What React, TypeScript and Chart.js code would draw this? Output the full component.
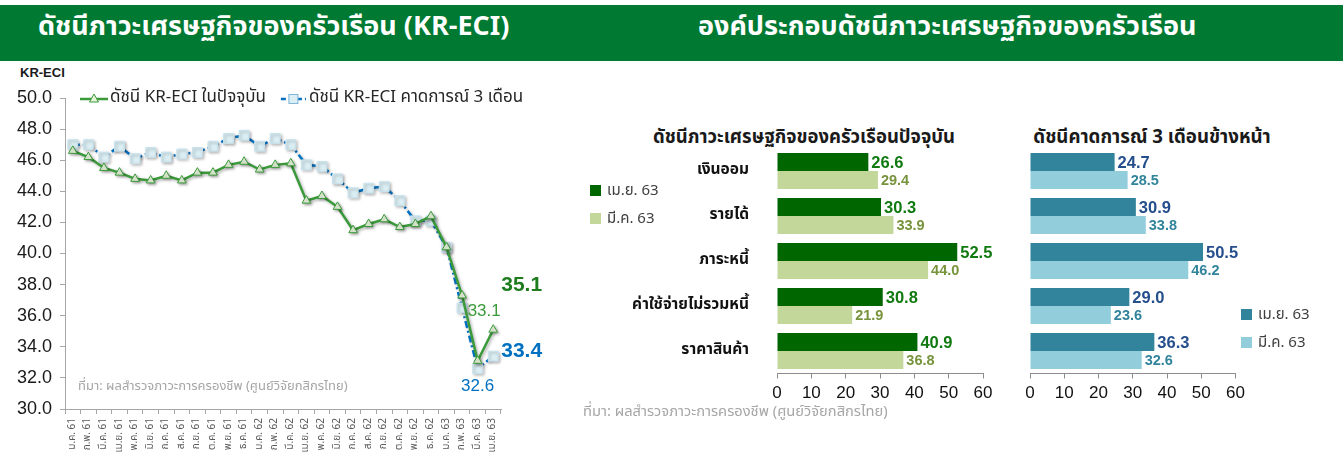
import React, { useEffect, useRef } from 'react';
import { Chart, registerables } from 'chart.js';

Chart.register(...registerables);

// ---------- data ----------
const monthLabels = [
  'ม.ค. 61', 'ก.พ. 61', 'มี.ค. 61', 'เม.ย. 61', 'พ.ค. 61', 'มิ.ย. 61', 'ก.ค. 61', 'ส.ค. 61', 'ก.ย. 61', 'ต.ค. 61', 'พ.ย. 61', 'ธ.ค. 61',
  'ม.ค. 62', 'ก.พ. 62', 'มี.ค. 62', 'เม.ย. 62', 'พ.ค. 62', 'มิ.ย. 62', 'ก.ค. 62', 'ส.ค. 62', 'ก.ย. 62', 'ต.ค. 62', 'พ.ย. 62', 'ธ.ค. 62',
  'ม.ค. 63', 'ก.พ. 63', 'มี.ค. 63', 'เม.ย. 63',
];
const currentIndex = [
  46.6, 46.2, 45.5, 45.2, 44.8, 44.7, 45.0, 44.7, 45.2, 45.2, 45.7, 45.9,
  45.4, 45.7, 45.8, 43.4, 43.7, 43.0, 41.5, 41.9, 42.2, 41.7, 41.9, 42.4,
  40.4, 37.3, 33.1, 35.1,
];
const expectIndex = [
  47.0, 47.0, 46.2, 46.9, 46.1, 46.5, 46.2, 46.4, 46.5, 46.9, 47.4, 47.6,
  46.9, 47.4, 47.0, 45.7, 45.6, 44.8, 43.9, 44.2, 44.3, 43.4, 42.1, 42.1,
  40.4, 36.5, 32.6, 33.4,
];
const lineSeriesNames = ['ดัชนี KR-ECI ในปัจจุบัน', 'ดัชนี KR-ECI คาดการณ์ 3 เดือน'];

const components = ['เงินออม', 'รายได้', 'ภาระหนี้', 'ค่าใช้จ่ายไม่รวมหนี้', 'ราคาสินค้า'];
const currentApr63 = [26.6, 30.3, 52.5, 30.8, 40.9];
const currentMar63 = [29.4, 33.9, 44.0, 21.9, 36.8];
const expectApr63 = [24.7, 30.9, 50.5, 29.0, 36.3];
const expectMar63 = [28.5, 33.8, 46.2, 23.6, 32.6];
const barSeriesNames = ['เม.ย. 63', 'มี.ค. 63'];

// ---------- styling ----------
const THAI = '"Noto Sans Thai", "Noto Sans Thai UI", Tahoma, "Leelawadee UI", "Noto Sans", "DejaVu Sans", sans-serif';
const ARIAL = '"Liberation Sans", Arial, Helvetica, sans-serif';
const GREEN = '#3A9A3A';
const BLUE = '#0070C0';

const shadowPlugin = {
  id: 'shadowPlugin',
  beforeDatasetDraw(chart: any) {
    const c = chart.ctx;
    c.save();
    c.shadowColor = 'rgba(0,0,0,0.3)';
    c.shadowBlur = 3;
    c.shadowOffsetX = 1.5;
    c.shadowOffsetY = 1.5;
  },
  afterDatasetDraw(chart: any) {
    chart.ctx.restore();
  },
};

const lineLabelPlugin = {
  id: 'lineLabelPlugin',
  afterDatasetsDraw(chart: any) {
    const ctx = chart.ctx;
    const n = monthLabels.length;
    const items = [
      { ds: 0, i: n - 1, dx: 8, dy: -44, align: 'left', font: `bold 21px ${ARIAL}`, color: '#1E7B1E' },
      { ds: 0, i: n - 2, dx: -10, dy: -49, align: 'left', font: `17px ${ARIAL}`, color: GREEN },
      { ds: 1, i: n - 1, dx: 8, dy: -5, align: 'left', font: `bold 21px ${ARIAL}`, color: BLUE },
      { ds: 1, i: n - 2, dx: 0, dy: 18, align: 'center', font: `17px ${ARIAL}`, color: BLUE },
    ];
    ctx.save();
    items.forEach((it) => {
      const el = chart.getDatasetMeta(it.ds).data[it.i];
      const v = chart.data.datasets[it.ds].data[it.i];
      ctx.font = it.font;
      ctx.fillStyle = it.color;
      ctx.textAlign = it.align;
      ctx.textBaseline = 'middle';
      ctx.fillText(Number(v).toFixed(1), el.x + it.dx, el.y + it.dy);
    });
    ctx.restore();
  },
};

const lineLegendPlugin = {
  id: 'lineLegendPlugin',
  afterDraw(chart: any) {
    const ctx = chart.ctx;
    const y = 37;
    ctx.save();
    ctx.font = `17px ${THAI}`;
    ctx.textBaseline = 'middle';
    ctx.textAlign = 'left';
    // green item
    let x = 80;
    ctx.strokeStyle = GREEN;
    ctx.lineWidth = 2.5;
    ctx.beginPath();
    ctx.moveTo(x, y);
    ctx.lineTo(x + 28, y);
    ctx.stroke();
    ctx.fillStyle = '#E6F2DA';
    ctx.lineWidth = 1;
    ctx.beginPath();
    ctx.moveTo(x + 14, y - 5);
    ctx.lineTo(x + 18.5, y + 3);
    ctx.lineTo(x + 9.5, y + 3);
    ctx.closePath();
    ctx.fill();
    ctx.stroke();
    ctx.fillStyle = '#262626';
    ctx.fillText(lineSeriesNames[0], x + 30, y);
    x = x + 30 + ctx.measureText(lineSeriesNames[0]).width + 15;
    // blue item
    ctx.strokeStyle = BLUE;
    ctx.lineWidth = 2.5;
    ctx.setLineDash([5, 3]);
    ctx.beginPath();
    ctx.moveTo(x, y);
    ctx.lineTo(x + 25, y);
    ctx.stroke();
    ctx.setLineDash([]);
    ctx.fillStyle = '#DAEEF3';
    ctx.fillRect(x + 8, y - 4.5, 9, 9);
    ctx.strokeStyle = '#7FB6DA';
    ctx.lineWidth = 1;
    ctx.strokeRect(x + 8, y - 4.5, 9, 9);
    ctx.fillStyle = '#262626';
    ctx.fillText(lineSeriesNames[1], x + 28, y);
    ctx.restore();
  },
};

const makeBarLabelPlugin = (colors: string[], fonts: string[]) => ({
  id: 'barLabelPlugin',
  afterDatasetsDraw(chart: any) {
    const ctx = chart.ctx;
    ctx.save();
    ctx.textAlign = 'left';
    ctx.textBaseline = 'middle';
    chart.data.datasets.forEach((ds: any, di: number) => {
      const meta = chart.getDatasetMeta(di);
      ctx.font = fonts[di];
      ctx.fillStyle = colors[di];
      meta.data.forEach((el: any, i: number) => {
        ctx.fillText(Number(ds.data[i]).toFixed(1), el.x + 3, el.y + 1);
      });
    });
    ctx.restore();
  },
});

function LineChart() {
  const ref = useRef<HTMLCanvasElement | null>(null);
  useEffect(() => {
    const chart = new Chart(ref.current as HTMLCanvasElement, {
      type: 'line',
      data: {
        labels: monthLabels,
        datasets: [
          {
            label: lineSeriesNames[0],
            data: currentIndex,
            borderColor: GREEN,
            borderWidth: 2.5,
            pointStyle: 'triangle',
            pointRadius: 5,
            pointBackgroundColor: '#E6F2DA',
            pointBorderColor: GREEN,
            pointBorderWidth: 1,
            tension: 0,
          },
          {
            label: lineSeriesNames[1],
            data: expectIndex,
            borderColor: BLUE,
            borderWidth: 2.5,
            borderDash: [7, 3, 2, 3],
            pointStyle: 'rect',
            pointRadius: 7,
            pointBackgroundColor: '#DAEEF3',
            pointBorderColor: '#C8E3EE',
            pointBorderWidth: 1,
            tension: 0,
          },
        ],
      },
      options: {
        animation: false,
        responsive: false,
        maintainAspectRatio: false,
        layout: { padding: { top: 36, right: 59, left: 0, bottom: 0 } },
        plugins: { legend: { display: false }, tooltip: { enabled: false } },
        scales: {
          x: {
            type: 'category',
            offset: true,
            grid: { offset: true, drawOnChartArea: false, drawTicks: true, tickLength: 5, color: '#A6A6A6' },
            border: { color: '#A6A6A6' },
            ticks: {
              autoSkip: false,
              minRotation: 90,
              maxRotation: 90,
              font: { family: THAI, size: 10 },
              color: '#595959',
              padding: 4,
            },
            afterFit: (s: any) => { s.height = 57; },
          },
          y: {
            min: 30,
            max: 50,
            ticks: {
              stepSize: 2,
              callback: (v: any) => Number(v).toFixed(1),
              font: { family: ARIAL, size: 18 },
              color: '#1A1A1A',
              padding: 8,
            },
            grid: { drawOnChartArea: false, tickLength: 5, color: '#A6A6A6' },
            border: { color: '#A6A6A6' },
            afterFit: (s: any) => { s.width = 65; },
          },
        },
      } as any,
      plugins: [shadowPlugin, lineLabelPlugin, lineLegendPlugin],
    });
    return () => chart.destroy();
  }, []);
  return (
    <canvas
      ref={ref}
      width={560}
      height={404}
      style={{ position: 'absolute', left: 0, top: 62, width: 560, height: 404 }}
    />
  );
}

function BarChart(props: {
  apr: number[];
  mar: number[];
  colors: string[];
  labelColors: string[];
  showCats: boolean;
  left: number;
  width: number;
  padLeft: number;
  padRight: number;
}) {
  const ref = useRef<HTMLCanvasElement | null>(null);
  useEffect(() => {
    const chart = new Chart(ref.current as HTMLCanvasElement, {
      type: 'bar',
      data: {
        labels: components,
        datasets: [
          { label: barSeriesNames[0], data: props.apr, backgroundColor: props.colors[0], borderWidth: 0, categoryPercentage: 0.8, barPercentage: 1.0 },
          { label: barSeriesNames[1], data: props.mar, backgroundColor: props.colors[1], borderWidth: 0, categoryPercentage: 0.8, barPercentage: 1.0 },
        ],
      },
      options: {
        indexAxis: 'y',
        animation: false,
        responsive: false,
        maintainAspectRatio: false,
        layout: { padding: { top: 38.5, right: props.padRight, left: props.padLeft, bottom: 0 } },
        plugins: { legend: { display: false }, tooltip: { enabled: false } },
        scales: {
          x: {
            min: 0,
            max: 60,
            ticks: { stepSize: 10, font: { family: ARIAL, size: 17 }, color: '#111111', padding: 5 },
            grid: { drawOnChartArea: false, tickLength: 5, color: '#8C8C8C' },
            border: { color: '#8C8C8C' },
            afterFit: (s: any) => { s.height = 36.5; },
          },
          y: {
            display: props.showCats,
            grid: { display: false },
            border: { display: false },
            ticks: { font: { family: THAI, size: 15.5, weight: 'bold' }, color: '#111111', padding: 20 },
            afterFit: (s: any) => { s.width = props.showCats ? 197 : 0; },
          },
        },
      } as any,
      plugins: [
        makeBarLabelPlugin(props.labelColors, [`bold 16.5px ${ARIAL}`, `bold 14.5px ${ARIAL}`]),
      ],
    });
    return () => chart.destroy();
  }, []);
  return (
    <canvas
      ref={ref}
      width={props.width}
      height={300}
      style={{ position: 'absolute', left: props.left, top: 110, width: props.width, height: 300 }}
    />
  );
}

function Legend(props: { left: number; top: number; colors: string[] }) {
  return (
    <div style={{ position: 'absolute', left: props.left, top: props.top, fontFamily: THAI, fontSize: 15, color: '#404040' }}>
      {barSeriesNames.map((n, i) => (
        <div key={n} style={{ display: 'flex', alignItems: 'center', height: 28 }}>
          <span style={{ display: 'inline-block', width: 11, height: 11, background: props.colors[i], marginRight: 6 }} />
          <span>{n}</span>
        </div>
      ))}
    </div>
  );
}

export default function App() {
  const note = 'ที่มา: ผลสำรวจภาวะการครองชีพ (ศูนย์วิจัยกสิกรไทย)';
  return (
    <div style={{ position: 'fixed', left: 0, top: 0, width: 1343, height: 466, background: '#FFFFFF', overflow: 'hidden' }}>
      <div style={{ position: 'absolute', left: 0, top: 5, width: 1343, height: 56, background: '#007A33' }} />
      <div style={{ position: 'absolute', left: 38, top: 10, color: '#FFFFFF', fontFamily: THAI, fontWeight: 'bold', fontSize: 27, whiteSpace: 'nowrap', lineHeight: '34px' }}>
        ดัชนีภาวะเศรษฐกิจของครัวเรือน (KR-ECI)
      </div>
      <div style={{ position: 'absolute', left: 698, top: 10, color: '#FFFFFF', fontFamily: THAI, fontWeight: 'bold', fontSize: 27, whiteSpace: 'nowrap', lineHeight: '34px' }}>
        องค์ประกอบดัชนีภาวะเศรษฐกิจของครัวเรือน
      </div>
      <div style={{ position: 'absolute', left: 20, top: 65, fontFamily: ARIAL, fontWeight: 'bold', fontSize: 13, color: '#1A1A1A' }}>KR-ECI</div>

      <LineChart />
      <div style={{ position: 'absolute', left: 78, top: 376, fontFamily: THAI, fontSize: 13, color: '#A6A6A6', whiteSpace: 'nowrap' }}>{note}</div>

      <div style={{ position: 'absolute', left: 604, width: 400, top: 123, textAlign: 'center', fontFamily: THAI, fontWeight: 'bold', fontSize: 18.5, color: '#1A1A1A', whiteSpace: 'nowrap' }}>
        ดัชนีภาวะเศรษฐกิจของครัวเรือนปัจจุบัน
      </div>
      <div style={{ position: 'absolute', left: 1002, width: 300, top: 123, textAlign: 'center', fontFamily: THAI, fontWeight: 'bold', fontSize: 18.7, color: '#1A1A1A', whiteSpace: 'nowrap' }}>
        ดัชนีคาดการณ์ 3 เดือนข้างหน้า
      </div>

      <BarChart apr={currentApr63} mar={currentMar63} colors={['#006600', '#C4D79B']} labelColors={['#107A10', '#77933C']} showCats={true} left={580} width={420} padLeft={0} padRight={17} />
      <BarChart apr={expectApr63} mar={expectMar63} colors={['#31849B', '#92CDDC']} labelColors={['#254E8C', '#31849B']} showCats={false} left={1000} width={250} padLeft={30} padRight={13} />

      <Legend left={590} top={176} colors={['#006600', '#C4D79B']} />
      <Legend left={1241} top={300} colors={['#31849B', '#92CDDC']} />

      <div style={{ position: 'absolute', left: 583, top: 400, fontFamily: THAI, fontSize: 14.7, color: '#A6A6A6', whiteSpace: 'nowrap' }}>{note}</div>
    </div>
  );
}
